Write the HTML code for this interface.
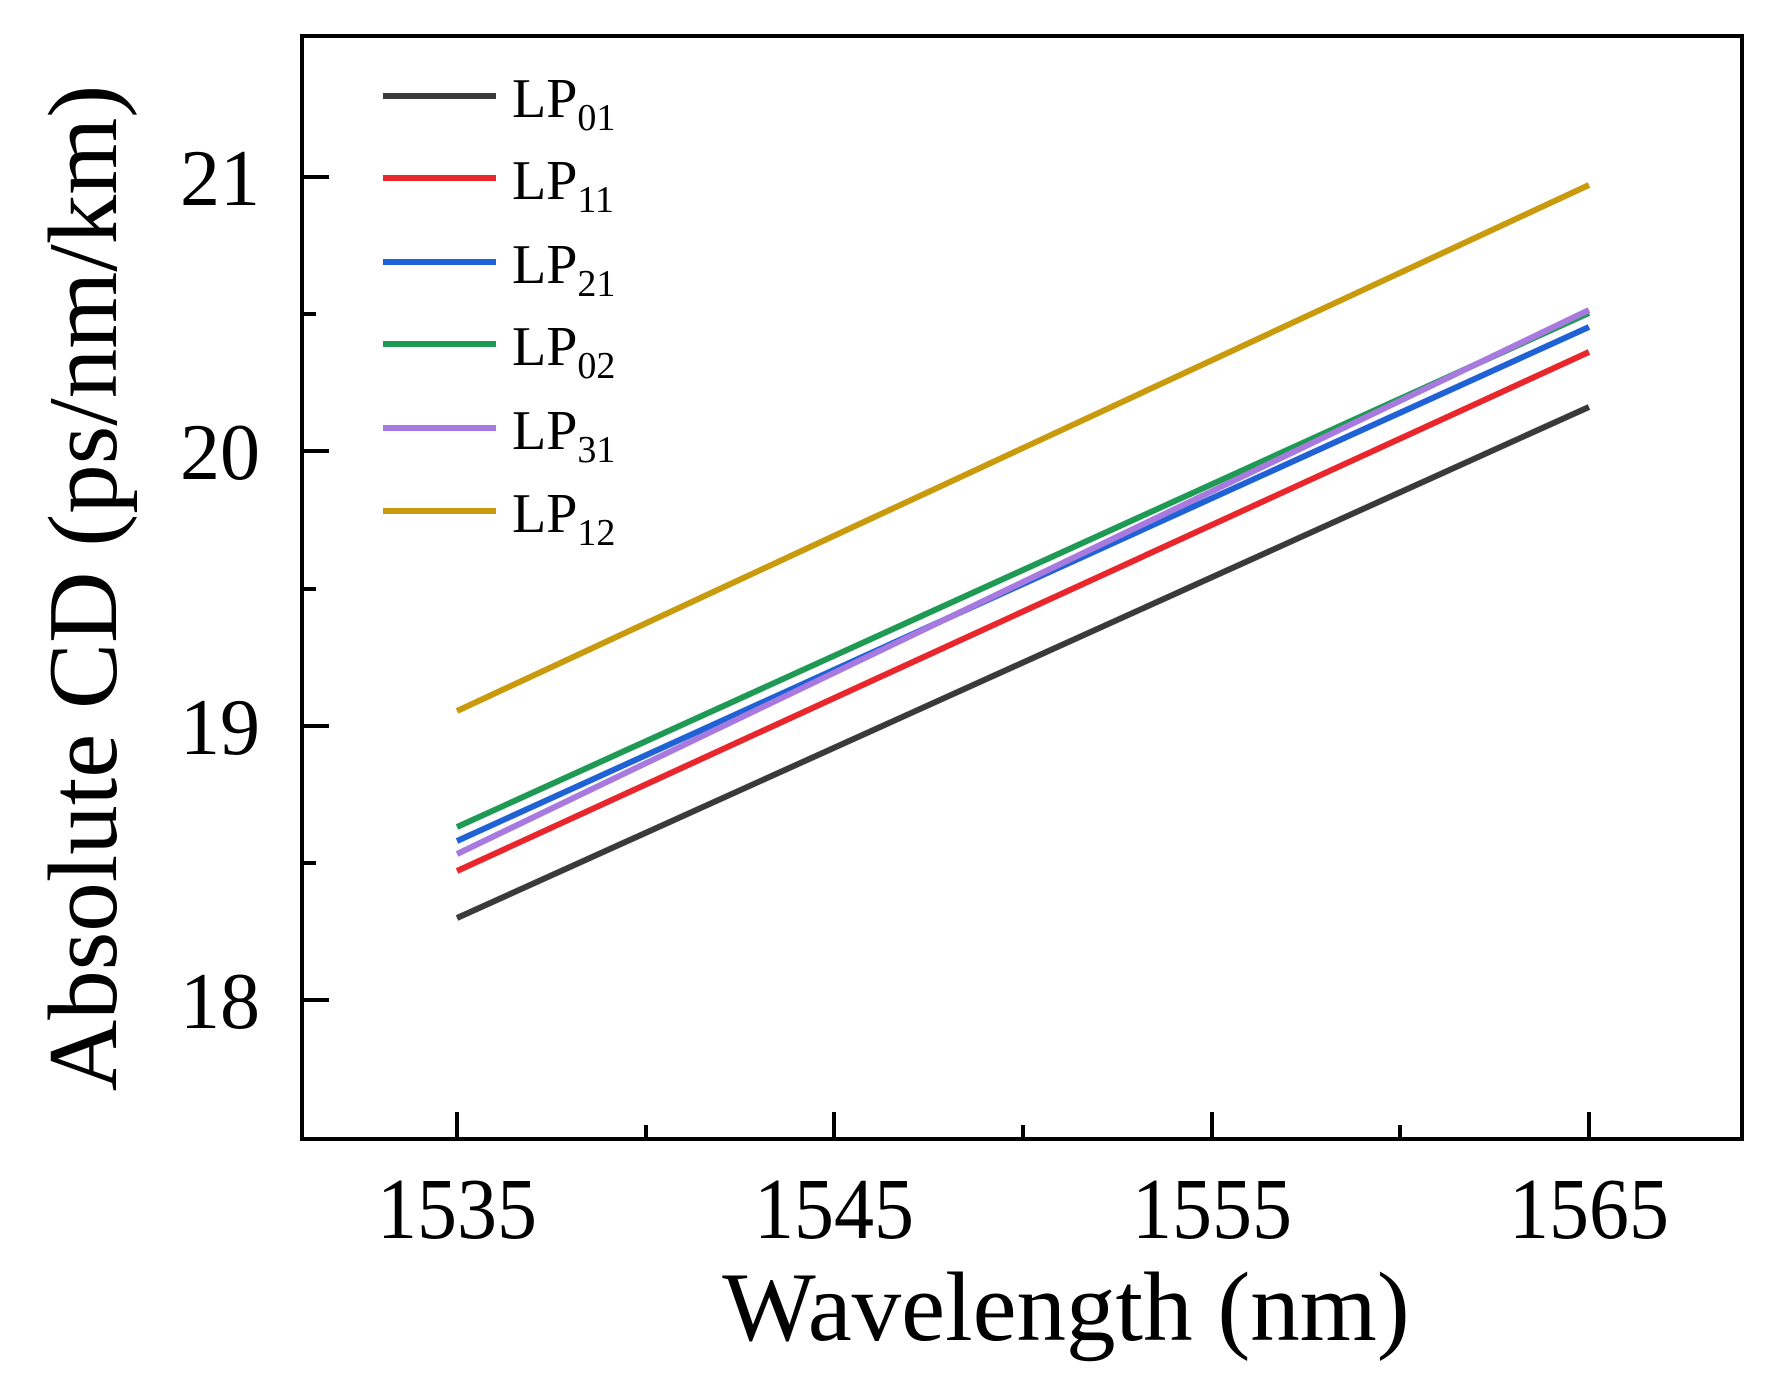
<!DOCTYPE html>
<html><head><style>body{margin:0;background:#fff}svg{display:block}</style></head>
<body>
<svg width="1768" height="1379" viewBox="0 0 1768 1379" xmlns="http://www.w3.org/2000/svg" font-family="Liberation Serif, serif">
<rect width="1768" height="1379" fill="#fff"/>
<g stroke-width="6" fill="none">
<line x1="457" y1="918" x2="1589" y2="407" stroke="#3a3a3a"/>
<line x1="457" y1="871" x2="1589" y2="352" stroke="#e8262b"/>
<line x1="457" y1="841" x2="1589" y2="327" stroke="#1f62d6"/>
<line x1="457" y1="827" x2="1589" y2="313" stroke="#1f9a55"/>
<line x1="457" y1="854" x2="1589" y2="310" stroke="#a87ae0"/>
<line x1="457" y1="711" x2="1589" y2="185" stroke="#c89a0c"/>
</g>
<rect x="302" y="36" width="1440" height="1103" fill="none" stroke="#000" stroke-width="4"/>
<g stroke="#000" stroke-width="4">
<line x1="457" y1="1139" x2="457" y2="1112"/>
<line x1="834" y1="1139" x2="834" y2="1112"/>
<line x1="1212" y1="1139" x2="1212" y2="1112"/>
<line x1="1589" y1="1139" x2="1589" y2="1112"/>
<line x1="646" y1="1139" x2="646" y2="1125"/>
<line x1="1023" y1="1139" x2="1023" y2="1125"/>
<line x1="1400" y1="1139" x2="1400" y2="1125"/>
<line x1="302" y1="177" x2="329" y2="177"/>
<line x1="302" y1="451" x2="329" y2="451"/>
<line x1="302" y1="726" x2="329" y2="726"/>
<line x1="302" y1="1000" x2="329" y2="1000"/>
<line x1="302" y1="314" x2="316" y2="314"/>
<line x1="302" y1="589" x2="316" y2="589"/>
<line x1="302" y1="863" x2="316" y2="863"/>
</g>
<g font-size="80" text-anchor="middle" fill="#000">
<text x="457" y="1238" transform="translate(457,1238) scale(1,1.08) translate(-457,-1238)">1535</text>
<text x="834" y="1238" transform="translate(834,1238) scale(1,1.08) translate(-834,-1238)">1545</text>
<text x="1212" y="1238" transform="translate(1212,1238) scale(1,1.08) translate(-1212,-1238)">1555</text>
<text x="1589" y="1238" transform="translate(1589,1238) scale(1,1.08) translate(-1589,-1238)">1565</text>
<text x="220" y="205">21</text>
<text x="220" y="479">20</text>
<text x="220" y="754">19</text>
<text x="220" y="1028">18</text>
<text x="1066" y="1340" font-size="99">Wavelength (nm)</text>
<text transform="translate(116,588) rotate(-90)" font-size="99">Absolute CD (ps/nm/km)</text>
</g>
<g stroke-width="6">
<line x1="383" y1="96" x2="496" y2="96" stroke="#3a3a3a"/>
<line x1="383" y1="178" x2="496" y2="178" stroke="#e8262b"/>
<line x1="383" y1="262" x2="496" y2="262" stroke="#1f62d6"/>
<line x1="383" y1="344" x2="496" y2="344" stroke="#1f9a55"/>
<line x1="383" y1="428" x2="496" y2="428" stroke="#a87ae0"/>
<line x1="383" y1="511" x2="496" y2="511" stroke="#c89a0c"/>
</g>
<g font-size="56" fill="#000">
<text x="512" y="117">LP<tspan font-size="38" dy="13">01</tspan></text>
<text x="512" y="199">LP<tspan font-size="38" dy="13">11</tspan></text>
<text x="512" y="283">LP<tspan font-size="38" dy="13">21</tspan></text>
<text x="512" y="365">LP<tspan font-size="38" dy="13">02</tspan></text>
<text x="512" y="449">LP<tspan font-size="38" dy="13">31</tspan></text>
<text x="512" y="532">LP<tspan font-size="38" dy="13">12</tspan></text>
</g>
</svg>
</body></html>
